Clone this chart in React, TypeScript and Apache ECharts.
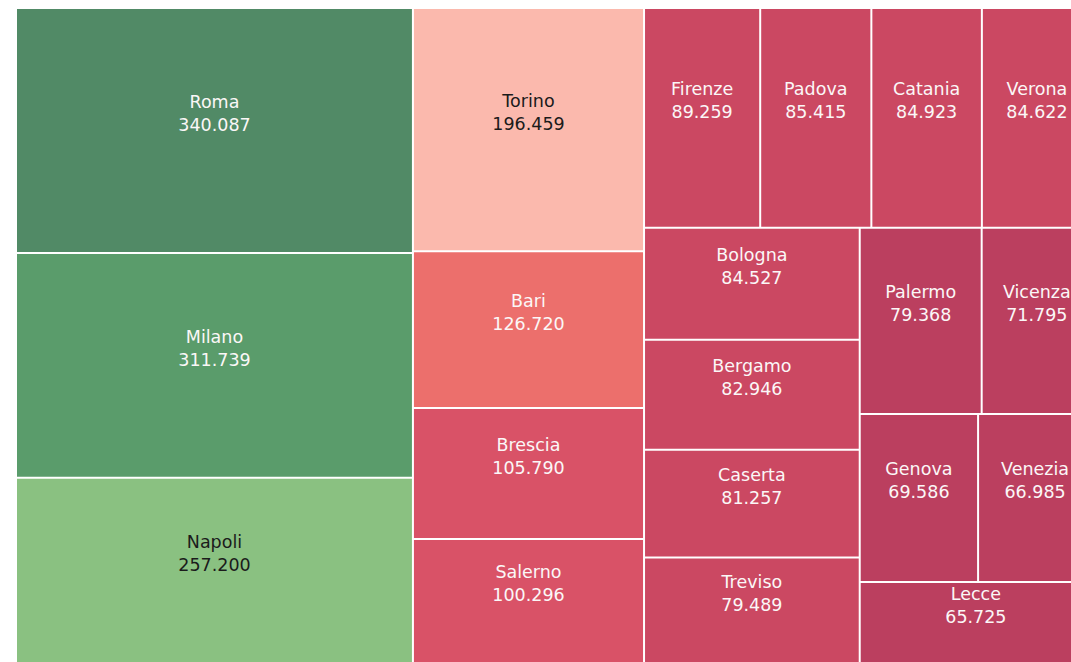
import React, { useEffect, useRef } from "react";
import * as echarts from "echarts";

const cities = [
  "Roma", "Milano", "Napoli", "Torino", "Bari", "Brescia", "Salerno",
  "Firenze", "Padova", "Catania", "Verona", "Bologna", "Bergamo", "Caserta",
  "Treviso", "Palermo", "Vicenza", "Genova", "Venezia", "Lecce",
];
const values = [
  340087, 311739, 257200, 196459, 126720, 105790, 100296,
  89259, 85415, 84923, 84622, 84527, 82946, 81257,
  79489, 79368, 71795, 69586, 66985, 65725,
];
const fillColors = [
  "#518a66", "#5a9c6b", "#8ac181", "#fbb9ad", "#ec6f6c", "#d95267", "#d95267",
  "#cb4862", "#cb4862", "#cb4862", "#cb4862", "#cb4862", "#cb4862", "#cb4862",
  "#cb4862", "#bb3f5f", "#bb3f5f", "#bb3f5f", "#bb3f5f", "#bb3f5f",
];
const darkLabelCities = ["Napoli", "Torino"];

function fmt(v: number): string {
  return String(Math.round(v)).replace(/\B(?=(\d{3})+(?!\d))/g, ".");
}

export default function App() {
  const ref = useRef<HTMLDivElement>(null);
  useEffect(() => {
    if (!ref.current) return;
    const chart = echarts.init(ref.current, undefined, { renderer: "svg" });
    const data = cities.map((name, i) => ({
      name,
      value: values[i],
      itemStyle: { color: fillColors[i] },
      label: { color: darkLabelCities.includes(name) ? "#1b1b1b" : "#fbf7f7" },
    }));
    chart.setOption({
      animation: false,
      series: [
        {
          type: "treemap",
          left: 17,
          top: 9,
          width: 1074,
          height: 653,
          roam: false,
          nodeClick: false,
          breadcrumb: { show: false },
          squareRatio: 0.5 * (1 + Math.sqrt(5)),
          levels: [
            { itemStyle: { borderWidth: 0, gapWidth: 2, borderColor: "#fff" } },
          ],
          itemStyle: { borderWidth: 0, gapWidth: 2 },
          label: {
            show: true,
            position: "inside",
            offset: [0, -17],
            fontFamily: "DejaVu Sans",
            fontSize: 17.5,
            lineHeight: 23,
            align: "center",
            verticalAlign: "middle",
            textBorderWidth: 0,
            formatter: (p: any) => `${p.name}\n${fmt(p.value)}`,
          },
          emphasis: { disabled: true },
          data,
        },
      ],
    });
    return () => chart.dispose();
  }, []);
  return (
    <div
      ref={ref}
      style={{ position: "absolute", left: 0, top: 0, width: 1071, height: 662, background: "#fff" }}
    />
  );
}
